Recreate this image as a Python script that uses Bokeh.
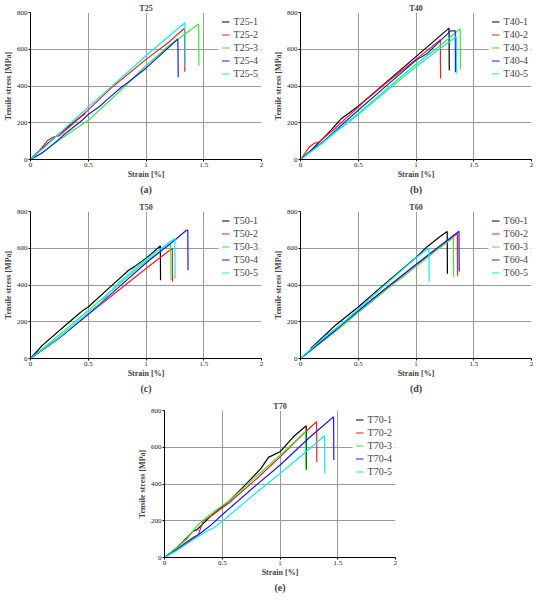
from bokeh.plotting import figure
from bokeh.layouts import column, row
from bokeh.models import FixedTicker, Title, Spacer
from bokeh.embed import file_html
from bokeh.resources import INLINE

# ---------------- data ----------------
X_TICKS = [0, 0.5, 1, 1.5, 2]
X_TICK_LABELS = ["0", "0.5", "1", "1.5", "2"]
Y_TICKS = [0, 200, 400, 600, 800]
Y_TICK_LABELS = ["0", "200", "400", "600", "800"]
X_GRID = [0.5, 1, 1.5]
Y_GRID = [200, 400, 600]
COLORS = ["#000000", "#ff1a1a", "#33ee33", "#1a1aff", "#00f0ff"]

# T25
T25_1_strain = [0, 0.03, 0.1, 0.2, 0.3, 0.4, 0.474]
T25_1_stress = [0, 20, 60, 115, 165, 215, 252]
T25_2_strain = [0, 0.08, 0.15, 0.2, 0.25, 0.35, 0.5, 0.7, 1.0, 1.2, 1.333, 1.336]
T25_2_stress = [0, 50, 105, 122, 130, 185, 270, 390, 545, 640, 714, 478]
T25_3_strain = [0, 0.1, 0.2, 0.35, 0.5, 0.75, 1.0, 1.2, 1.4, 1.456, 1.458]
T25_3_stress = [0, 35, 85, 150, 213, 358, 510, 620, 712, 737, 510]
T25_4_strain = [0, 0.1, 0.2, 0.3, 0.45, 0.5, 0.6, 0.67, 0.8, 0.84, 1.0, 1.276, 1.279]
T25_4_stress = [0, 35, 85, 140, 215, 245, 290, 330, 400, 418, 497, 656, 448]
T25_5_strain = [0, 0.1, 0.3, 0.5, 0.75, 1.0, 1.337, 1.339]
T25_5_stress = [0, 55, 170, 285, 425, 565, 744, 511]

# T40
T40_1_strain = [0, 0.1, 0.25, 0.35, 0.5, 0.75, 1.0, 1.286, 1.288]
T40_1_stress = [0, 55, 150, 220, 290, 425, 560, 715, 486]
T40_2_strain = [0, 0.08, 0.12, 0.16, 0.3, 0.5, 0.55, 0.75, 1.0, 1.2, 1.21, 1.213]
T40_2_stress = [0, 70, 88, 95, 170, 285, 315, 420, 545, 645, 653, 441]
T40_3_strain = [0, 0.2, 0.5, 0.75, 1.0, 1.2, 1.37, 1.383, 1.385]
T40_3_stress = [0, 95, 250, 385, 520, 615, 705, 710, 490]
T40_4_strain = [0, 0.2, 0.5, 0.75, 1.0, 1.1, 1.2, 1.3, 1.34, 1.342]
T40_4_stress = [0, 100, 268, 405, 540, 578, 640, 700, 700, 475]
T40_5_strain = [0, 0.2, 0.3, 0.4, 0.5, 0.75, 1.0, 1.2, 1.35, 1.352]
T40_5_stress = [0, 95, 150, 195, 245, 375, 505, 600, 668, 468]

# T50
T50_1_strain = [0, 0.1, 0.3, 0.45, 0.5, 0.7, 0.85, 0.9, 1.0, 1.124, 1.126]
T50_1_stress = [0, 70, 180, 260, 280, 395, 480, 500, 545, 613, 426]
T50_2_strain = [0, 0.25, 0.5, 0.75, 1.0, 1.228, 1.23]
T50_2_stress = [0, 115, 240, 365, 490, 600, 419]
T50_3_strain = [0, 0.25, 0.5, 0.75, 1.0, 1.214, 1.216]
T50_3_stress = [0, 128, 262, 395, 530, 622, 426]
T50_4_strain = [0, 0.25, 0.5, 0.75, 1.0, 1.25, 1.35, 1.362, 1.364]
T50_4_stress = [0, 112, 240, 380, 520, 645, 698, 699, 481]
T50_5_strain = [0, 0.25, 0.5, 0.6, 0.75, 1.0, 1.25, 1.252]
T50_5_stress = [0, 115, 250, 300, 405, 540, 653, 436]

# T60
T60_1_strain = [0, 0.08, 0.1, 0.25, 0.3, 0.5, 0.7, 1.0, 1.1, 1.2, 1.27, 1.272]
T60_1_stress = [0, 40, 62, 150, 180, 280, 390, 550, 610, 660, 691, 461]
T60_2_strain = [0, 0.25, 0.5, 0.75, 1.0, 1.2, 1.358, 1.36]
T60_2_stress = [0, 125, 258, 385, 510, 605, 680, 450]
T60_3_strain = [0, 0.3, 0.5, 0.75, 1.0, 1.2, 1.324, 1.326]
T60_3_stress = [0, 145, 250, 378, 500, 600, 659, 445]
T60_4_strain = [0, 0.25, 0.5, 0.75, 1.0, 1.2, 1.372, 1.374]
T60_4_stress = [0, 128, 260, 388, 512, 610, 693, 474]
T60_5_strain = [0, 0.2, 0.35, 0.5, 0.75, 1.0, 1.112, 1.114]
T60_5_stress = [0, 112, 185, 268, 410, 548, 601, 419]

# T70
T70_1_strain = [0, 0.1, 0.2, 0.25, 0.28, 0.4, 0.558, 0.7, 0.837, 0.9, 1.004, 1.116, 1.227, 1.229]
T70_1_stress = [0, 50, 110, 145, 150, 225, 306, 395, 486, 545, 577, 657, 717, 477]
T70_2_strain = [0, 0.1, 0.25, 0.293, 0.335, 0.4, 0.558, 0.8, 1.004, 1.2, 1.317, 1.319]
T70_2_stress = [0, 45, 110, 125, 198, 225, 297, 430, 549, 672, 739, 520]
T70_3_strain = [0, 0.1, 0.2, 0.293, 0.363, 0.45, 0.558, 0.8, 1.004, 1.222, 1.224]
T70_3_stress = [0, 50, 105, 180, 216, 260, 306, 445, 558, 685, 477]
T70_4_strain = [0, 0.1, 0.28, 0.4, 0.502, 0.75, 1.004, 1.25, 1.464, 1.466]
T70_4_stress = [0, 40, 117, 175, 234, 370, 505, 650, 766, 531]
T70_5_strain = [0, 0.1, 0.25, 0.39, 0.418, 0.502, 0.75, 1.004, 1.2, 1.386, 1.388]
T70_5_stress = [0, 35, 98, 153, 158, 198, 330, 459, 562, 663, 459]

PANELS = [
    ("T25", "(a)", [(T25_1_strain, T25_1_stress), (T25_2_strain, T25_2_stress), (T25_3_strain, T25_3_stress),
                    (T25_4_strain, T25_4_stress), (T25_5_strain, T25_5_stress)]),
    ("T40", "(b)", [(T40_1_strain, T40_1_stress), (T40_2_strain, T40_2_stress), (T40_3_strain, T40_3_stress),
                    (T40_4_strain, T40_4_stress), (T40_5_strain, T40_5_stress)]),
    ("T50", "(c)", [(T50_1_strain, T50_1_stress), (T50_2_strain, T50_2_stress), (T50_3_strain, T50_3_stress),
                    (T50_4_strain, T50_4_stress), (T50_5_strain, T50_5_stress)]),
    ("T60", "(d)", [(T60_1_strain, T60_1_stress), (T60_2_strain, T60_2_stress), (T60_3_strain, T60_3_stress),
                    (T60_4_strain, T60_4_stress), (T60_5_strain, T60_5_stress)]),
    ("T70", "(e)", [(T70_1_strain, T70_1_stress), (T70_2_strain, T70_2_stress), (T70_3_strain, T70_3_stress),
                    (T70_4_strain, T70_4_stress), (T70_5_strain, T70_5_stress)]),
]

FONT = "Liberation Serif"


def make_panel(name, tag, series, width, height, top, bottom, right):
    p = figure(width=width, height=height, x_range=(0, 2), y_range=(0, 800),
               output_backend="svg", toolbar_location=None,
               min_border_left=24, min_border_right=right,
               min_border_top=top, min_border_bottom=bottom)
    p.outline_line_color = None
    p.background_fill_color = "white"
    p.border_fill_color = "white"

    p.title.text = name
    p.title.align = "center"
    p.title.text_font = FONT
    p.title.text_font_size = "8px"
    p.title.text_font_style = "bold"
    p.title.standoff = 0

    for ax, ticks, labels, lab in ((p.xaxis[0], X_TICKS, X_TICK_LABELS, "Strain [%]"),
                                   (p.yaxis[0], Y_TICKS, Y_TICK_LABELS, "Tensile stress [MPa]")):
        ax.ticker = FixedTicker(ticks=ticks)
        ax.major_label_overrides = {t: l for t, l in zip(ticks, labels)}
        ax.axis_label = lab
        ax.axis_label_text_font = FONT
        ax.axis_label_text_font_size = "8px"
        ax.axis_label_text_font_style = "bold"
        ax.axis_label_standoff = 1
        ax.major_label_text_font = FONT
        ax.major_label_text_font_size = "7px"
        ax.major_label_text_color = "#222222"
        ax.major_label_standoff = 1
        ax.major_tick_in = 0
        ax.major_tick_out = 2
        ax.minor_tick_line_color = None
        ax.axis_line_color = "black"
        ax.major_tick_line_color = "black"
    p.xaxis[0].axis_label_standoff = 0

    p.xgrid[0].ticker = FixedTicker(ticks=X_GRID)
    p.ygrid[0].ticker = FixedTicker(ticks=Y_GRID)
    for g in (p.xgrid[0], p.ygrid[0]):
        g.grid_line_color = "#9a9a9a"
        g.grid_line_width = 1

    for i, (xs, ys) in enumerate(series):
        p.line(xs, ys, color=COLORS[i], line_width=1.2,
               legend_label=f"{name}-{i + 1}")

    lg = p.legend[0]
    lg.location = "top_right"
    lg.margin = 0
    lg.padding = 3
    lg.spacing = 0
    lg.border_line_alpha = 0
    lg.background_fill_color = "white"
    lg.background_fill_alpha = 1
    lg.label_text_font = FONT
    lg.label_text_font_size = "10px"
    lg.label_height = 13
    lg.glyph_height = 13
    lg.glyph_width = 8
    lg.label_standoff = 4

    p.add_layout(Title(text=tag, align="center", text_font=FONT, text_font_size="10px",
                       text_font_style="bold", standoff=0), "below")
    return p


pa = make_panel(*PANELS[0], 270, 199, 12, 40, 9)
pb = make_panel(*PANELS[1], 264, 199, 12, 40, 3)
pc = make_panel(*PANELS[2], 270, 199, 12, 40, 9)
pd = make_panel(*PANELS[3], 264, 199, 12, 40, 3)
pe = make_panel(*PANELS[4], 264, 199, 12, 40, 3)

layout = column(row(pa, pb), row(pc, pd), row(Spacer(width=134, height=199), pe))

open("out.html", "w").write(file_html(layout, INLINE))
